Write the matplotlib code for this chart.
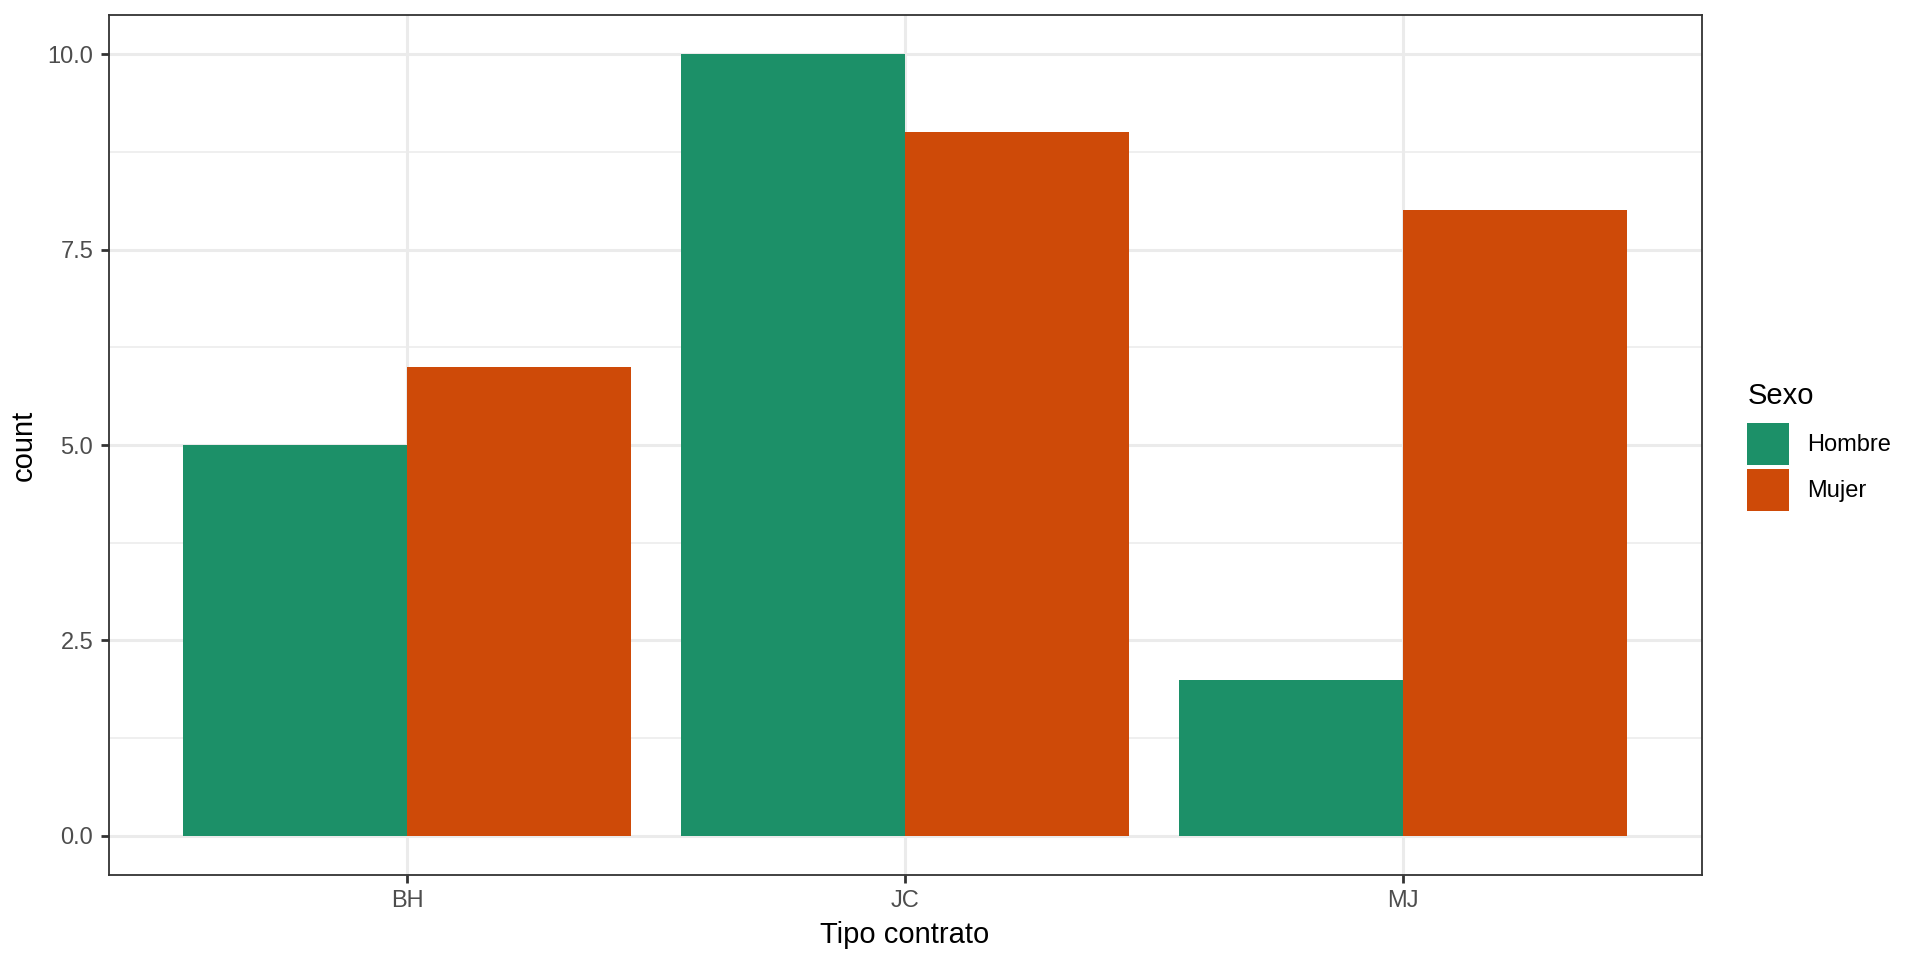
import matplotlib
matplotlib.use("Agg")
import matplotlib.pyplot as plt
import numpy as np
from matplotlib.patches import Patch

categories = ["BH", "JC", "MJ"]
hombre = [5, 10, 2]
mujer = [6, 9, 8]
groups = ["Hombre", "Mujer"]
C_H = "#1C9068"
C_M = "#CE4A08"

plt.rcParams["font.family"] = ["Liberation Sans", "DejaVu Sans"]

fig = plt.figure(figsize=(19.2, 9.6), dpi=100)
ax = fig.add_axes([108.5 / 1920, 1 - 875 / 960, (1701.7 - 108.5) / 1920, (875 - 15) / 960])

x = np.arange(1, len(categories) + 1)
w = 0.45
ax.bar(x - w / 2, hombre, w, color=C_H, zorder=3)
ax.bar(x + w / 2, mujer, w, color=C_M, zorder=3)

ax.set_xlim(0.4, 3.6)
ax.set_ylim(-0.5, 10.5)
ax.set_xticks(x)
ax.set_xticklabels(categories)
ax.set_yticks([0, 2.5, 5, 7.5, 10])
ax.set_yticklabels(["0.0", "2.5", "5.0", "7.5", "10.0"])
ax.set_yticks([1.25, 3.75, 6.25, 8.75], minor=True)
ax.grid(which="major", color="#EBEBEB", lw=2.2, zorder=0)
ax.grid(which="minor", axis="y", color="#EBEBEB", lw=1.1, zorder=0)
ax.tick_params(which="major", length=6, width=2, color="#333333",
               labelsize=17, labelcolor="#4D4D4D", pad=5)
ax.tick_params(which="minor", length=0)
for s in ax.spines.values():
    s.set_color("#333333")
    s.set_linewidth(1.3)

ax.set_xlabel("Tipo contrato", fontsize=21, labelpad=6)
ax.set_ylabel("count", fontsize=21, labelpad=7)

handles = [Patch(facecolor=C_H), Patch(facecolor=C_M)]
leg = fig.legend(handles, groups, title="Sexo", loc="upper left",
                 bbox_to_anchor=(1738 / 1920, 1 - 373 / 960), frameon=False,
                 fontsize=17, title_fontsize=21, handlelength=1.77, handleheight=2.36,
                 handletextpad=0.75, labelspacing=0.17, borderaxespad=0)
leg._legend_box.align = "left"
leg._legend_box.sep = 9

fig.savefig("out.png", dpi=100)
